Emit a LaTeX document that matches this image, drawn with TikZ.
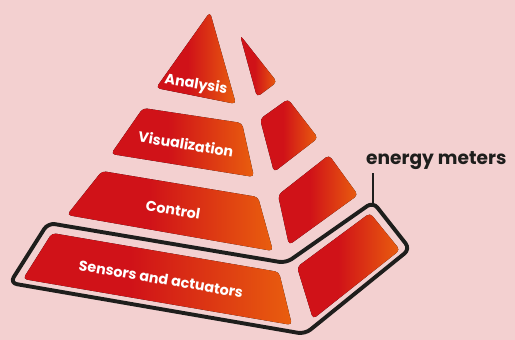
\documentclass[tikz,border=0pt]{standalone}
\usepackage{fontspec}
\setmainfont{Poppins}
\usepackage{tikz}
\usetikzlibrary{positioning}
\definecolor{bgpink}{RGB}{243,208,208}
\definecolor{pyrred}{RGB}{208,18,24}
\definecolor{pyrorange}{RGB}{233,94,14}
\definecolor{framegray}{RGB}{30,30,28}
\pgfdeclarehorizontalshading{redorange}{100bp}{color(0bp)=(pyrred); color(45bp)=(pyrred); color(75bp)=(pyrorange); color(100bp)=(pyrorange)}
\tikzstyle{layer} = [rounded corners=4pt, shading=redorange]
\tikzstyle{layertext} = [text=white, font=\bfseries\fontsize{14.3}{15}\selectfont, rotate=-9.5, inner sep=0pt]
\tikzstyle{meterframe} = [draw=framegray, line width=3.9pt, rounded corners=7pt, line join=round]
\tikzstyle{meterline} = [draw=framegray, line width=2pt]

\begin{document}
\begin{tikzpicture}[x=1pt, y=-1pt]
% Background
\fill[bgpink] (0,0) rectangle (515,340);
\useasboundingbox (0,0) rectangle (515,340);

% Front faces
\fill[layer] (210,12) -- (236,104) -- (156,88) -- cycle;
\fill[layer] (143,108) -- (242,123) -- (254,177) -- (111,154) -- cycle;
\fill[layer] (102,171) -- (258,197) -- (273,251) -- (67,215) -- cycle;
\fill[layer] (52,233) -- (279,272) -- (292,325) -- (23,279) -- cycle;

% Side faces
\fill[layer] (240,35) -- (277,82) -- (257,97) -- cycle;
\fill[layer] (260,119) -- (288,99) -- (318,138) -- (274,172) -- cycle;
\fill[layer] (278,195) -- (329,155) -- (358,195) -- (289,245) -- cycle;
\fill[layer] (297,267) -- (370,213) -- (400,250) -- (313,319) -- cycle;

% Labels
\node (analysis) [layertext] at (196,85) {Analysis};
\node (visual) [layertext] at (186,144) {Visualization};
\node (control) [layertext] at (173,210) {Control};
\node (sensors) [layertext] at (161,279) {Sensors and actuators};

% Energy meters
\draw[meterframe] (10,283) -- (48,223) -- (286,263) -- (373,202) -- (410,249) -- (305,334) -- cycle;
\coordinate (frametop) at (373,203);
\node (meters) [anchor=base west, inner sep=0pt, text=framegray, font=\bfseries\fontsize{18.6}{20}\selectfont] at (366,164) {energy meters};
\draw[meterline, shorten >=4pt] (frametop) -- (meters.south -| frametop);

\end{tikzpicture}
\end{document}
